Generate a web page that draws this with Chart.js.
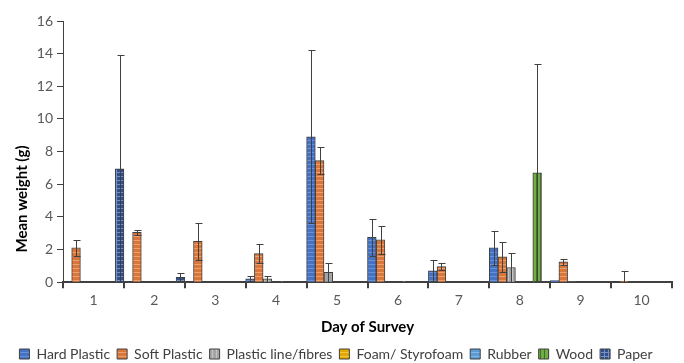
<!DOCTYPE html>
<html>
<head>
<meta charset="utf-8">
<script src="https://cdn.jsdelivr.net/npm/chart.js"></script>
<style>
  html, body { margin: 0; padding: 0; background: #fff; }
  #wrap { width: 684px; height: 363px; }
</style>
</head>
<body>
<div id="wrap"><canvas id="chart"></canvas></div>
<script>
const days = ["1", "2", "3", "4", "5", "6", "7", "8", "9", "10"];
const yTicks = [0, 2, 4, 6, 8, 10, 12, 14, 16];

// mean weight (g) per day, and +/- error
const hardPlastic    = [0, 0, 0, 0.2, 8.9, 2.75, 0.7, 2.1, 0.1, 0];
const hardPlasticErr = [0, 0, 0, 0.15, 5.3, 1.15, 0.65, 1.05, 0, 0];
const softPlastic    = [2.1, 3.05, 2.5, 1.75, 7.45, 2.6, 0.95, 1.55, 1.25, 0.05];
const softPlasticErr = [0.5, 0.15, 1.15, 0.6, 0.85, 0.85, 0.2, 0.9, 0.2, 0.65];
const plasticLine    = [0, 0, 0, 0.2, 0.6, 0, 0, 0.9, 0.02, 0];
const plasticLineErr = [0, 0, 0, 0.2, 0.6, 0, 0, 0.9, 0, 0];
const foam           = [0, 0, 0, 0, 0, 0, 0, 0, 0, 0];
const foamErr        = [0, 0, 0, 0, 0, 0, 0, 0, 0, 0];
const rubber         = [0, 0, 0, 0.05, 0, 0.05, 0, 0, 0, 0];
const rubberErr      = [0, 0, 0, 0.03, 0, 0.03, 0, 0, 0, 0];
const wood           = [0, 0, 0, 0, 0, 0, 0, 6.7, 0, 0];
const woodErr        = [0, 0, 0, 0, 0, 0, 0, 6.65, 0, 0];
const paper          = [6.95, 0.3, 0, 0, 0, 0, 0, 0, 0, 0];
const paperErr       = [6.95, 0.25, 0, 0, 0, 0, 0, 0, 0, 0];

const FONT = "Lato, 'Open Sans', sans-serif";
const TEXT = '#595959';

// small pattern tiles, roughly like the hatched office fills
function makePattern(base, line, kind) {
    const c = document.createElement('canvas');
    c.width = 4; c.height = 4;
    const g = c.getContext('2d');
    g.fillStyle = base;
    g.fillRect(0, 0, 4, 4);
    g.fillStyle = line;
    if (kind === 'h' || kind === 'grid') g.fillRect(0, 0, 4, 1);
    if (kind === 'v' || kind === 'grid') g.fillRect(0, 0, 1, 4);
    return g.createPattern(c, 'repeat');
}

const series = [
    { label: 'Hard Plastic',         data: hardPlastic, err: hardPlasticErr, color: '#4472C4', line: '#6a90d8', kind: 'h' },
    { label: 'Soft Plastic',         data: softPlastic, err: softPlasticErr, color: '#D9773A', line: '#eda06e', kind: 'h' },
    { label: 'Plastic line/fibres',  data: plasticLine, err: plasticLineErr, color: '#A5A5A5', line: '#c4c4c4', kind: 'v' },
    { label: 'Foam/ Styrofoam',      data: foam,        err: foamErr,        color: '#E0A800', line: '#f0c840', kind: 'h' },
    { label: 'Rubber',               data: rubber,      err: rubberErr,      color: '#5B9BD5', line: '#86b6e2', kind: 'h' },
    { label: 'Wood',                 data: wood,        err: woodErr,        color: '#70AD47', line: '#3f6e26', kind: 'v' },
    { label: 'Paper',                data: paper,       err: paperErr,       color: '#2F4F8F', line: '#7a90c0', kind: 'grid' }
];

const errorBars = {
    id: 'errorBars',
    afterDatasetsDraw(chart) {
        const ctx = chart.ctx;
        const y = chart.scales.y;
        ctx.save();
        ctx.strokeStyle = '#404040';
        ctx.lineWidth = 1;
        chart.data.datasets.forEach((ds, di) => {
            const meta = chart.getDatasetMeta(di);
            meta.data.forEach((bar, i) => {
                const e = ds.err[i];
                if (!e) return;
                const v = ds.data[i];
                const x = Math.round(bar.x) + 0.5;
                const top = Math.round(y.getPixelForValue(v + e)) + 0.5;
                const bot = Math.round(y.getPixelForValue(Math.max(0, v - e))) + 0.5;
                ctx.beginPath();
                ctx.moveTo(x, top); ctx.lineTo(x, bot);
                ctx.moveTo(x - 3, top); ctx.lineTo(x + 4, top);
                if (v - e > 0.01) { ctx.moveTo(x - 3, bot); ctx.lineTo(x + 4, bot); }
                ctx.stroke();
            });
        });
        ctx.restore();
    }
};

// y title drawn by hand: in the original it sits lower than the axis centre
const yTitle = {
    id: 'yTitle',
    afterDraw(chart) {
        const ctx = chart.ctx;
        ctx.save();
        ctx.translate(22, 199);
        ctx.rotate(-Math.PI / 2);
        ctx.font = "bold 15px " + FONT;
        ctx.fillStyle = '#000';
        ctx.textAlign = 'center';
        ctx.textBaseline = 'middle';
        ctx.fillText('Mean weight (g)', 0, 0);
        ctx.restore();
    }
};

new Chart(document.getElementById('chart'), {
    type: 'bar',
    data: {
        labels: days,
        datasets: series.map(s => ({
            label: s.label,
            data: s.data,
            err: s.err,
            backgroundColor: makePattern(s.color, s.line, s.kind),
            borderColor: '#404040',
            borderWidth: 1,
            categoryPercentage: 1.0,
            barPercentage: 1.0
        }))
    },
    plugins: [errorBars, yTitle],
    options: {
        responsive: true,
        maintainAspectRatio: false,
        animation: false,
        layout: { padding: { top: 21, right: 12, left: 0, bottom: -8 } },
        scales: {
            x: {
                grid: { display: true, drawOnChartArea: false, offset: true, tickLength: 6, color: '#404040', lineWidth: 2 },
                border: { display: true, color: '#404040', width: 2 },
                ticks: { color: TEXT, font: { family: FONT, size: 14 }, padding: 4 },
                title: { display: true, text: 'Day of Survey', color: '#000', font: { family: FONT, size: 15, weight: 'bold' }, padding: { top: 5, bottom: 4 } }
            },
            y: {
                min: 0, max: 16,
                afterBuildTicks: s => { s.ticks = yTicks.map(v => ({ value: v })); },
                afterFit: s => { s.width = 63; },
                grid: { display: true, drawOnChartArea: false, tickLength: 6, color: '#404040' },
                border: { display: true, color: '#404040', width: 1 },
                ticks: { color: TEXT, font: { family: FONT, size: 14 }, padding: 4 }
            }
        },
        plugins: {
            legend: {
                position: 'bottom',
                labels: {
                    color: '#404040',
                    font: { family: FONT, size: 14 },
                    boxWidth: 10, boxHeight: 10,
                    padding: 7
                }
            },
            tooltip: { enabled: false }
        }
    }
});
</script>
</body>
</html>
